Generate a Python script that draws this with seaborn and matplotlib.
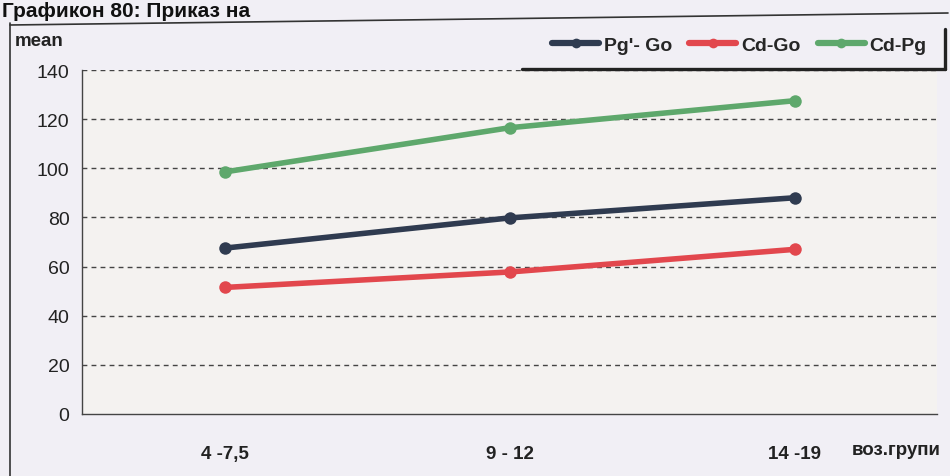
import numpy as np
import pandas as pd
import matplotlib.pyplot as plt
import seaborn as sns
from matplotlib import font_manager
from matplotlib.lines import Line2D

# -----------------------------
# Data
# -----------------------------
age_groups = ["4 -7,5", "9 - 12", "14 -19"]
pg_go = [67.5, 79.8, 88.0]
cd_go = [51.5, 57.8, 67.0]
cd_pg = [98.5, 116.5, 127.5]

series_names = ["Pg'- Go", "Cd-Go", "Cd-Pg"]
series_colors = ["#2f3b50", "#e2474d", "#5ea86c"]
y_ticks = [0, 20, 40, 60, 80, 100, 120, 140]

df = pd.DataFrame({
    "group": age_groups * 3,
    "pos": list(range(len(age_groups))) * 3,
    "mean": pg_go + cd_go + cd_pg,
    "series": [s for s in series_names for _ in age_groups],
})

# condensed bold font like the scanned original, if available
names = {f.name for f in font_manager.fontManager.ttflist}
narrow = "Liberation Sans Narrow" if "Liberation Sans Narrow" in names else "Liberation Sans"

sns.set_style("white")
plt.rcParams["font.family"] = ["Liberation Sans", "DejaVu Sans"]

bg = "#f1eff5"
fig = plt.figure(figsize=(9.5, 4.77), dpi=100, facecolor=bg)
ax = fig.add_axes([82 / 950, 1 - 415 / 477, 855 / 950, 344 / 477])
ax.set_facecolor("#f4f2f0")

sns.lineplot(
    data=df, x="pos", y="mean", hue="series", hue_order=series_names,
    palette=series_colors, marker="o", markersize=9, markeredgewidth=0,
    linewidth=4, legend=False, ax=ax,
)

ax.set_xlim(-0.5, len(age_groups) - 0.5)
ax.set_ylim(0, 140)
ax.set_yticks(y_ticks)
ax.set_yticklabels([str(t) for t in y_ticks], fontsize=14, color="#222222")
ax.set_xticks(np.arange(len(age_groups)))
ax.set_xticklabels(age_groups, fontsize=13.5, fontweight="bold", family=narrow, color="#222222")
ax.set_xticks(np.arange(len(age_groups)) + 0.5, minor=True)
ax.tick_params(axis="x", which="major", length=0, pad=22)
ax.tick_params(axis="x", which="minor", length=4, direction="out", color="#444444")
ax.tick_params(axis="y", length=5, direction="out", color="#444444", pad=4)
ax.set_xlabel("")
ax.set_ylabel("")

for t in y_ticks[1:]:
    ax.axhline(t, color="#444444", linestyle=(0, (3.5, 3)), linewidth=1.0, zorder=0)

for side in ["top", "right"]:
    ax.spines[side].set_visible(False)
for side in ["left", "bottom"]:
    ax.spines[side].set_color("#444444")
    ax.spines[side].set_linewidth(1.0)

# axis captions
fig.text(15 / 950, 1 - 42 / 477, "mean", fontsize=13.5, fontweight="bold", va="center", color="#222222")
fig.text(852 / 950, 1 - 451 / 477, "воз.групи", fontsize=13.5, fontweight="bold",
         family=narrow, va="center", color="#222222")

# legend
handles = [Line2D([0], [0], color=c, linewidth=4.5, marker="o", markersize=7, markeredgewidth=0)
           for c in series_colors]
leg = fig.legend(handles, series_names, loc="center right", bbox_to_anchor=(944 / 950, 1 - 46 / 477),
                 ncol=3, frameon=False, handlelength=2.4, handletextpad=0.25, columnspacing=0.9,
                 prop={"weight": "bold", "size": 14})

# scanned page frame and caption at the top edge
fig.add_artist(Line2D([10 / 950, 10 / 950], [0, 1 - 24 / 477], color="#333333", linewidth=1.2))
fig.add_artist(Line2D([10 / 950, 948 / 950], [1 - 26 / 477, 1 - 14 / 477], color="#333333", linewidth=1.2))
fig.add_artist(Line2D([522 / 950, 945 / 950], [1 - 70 / 477, 1 - 70 / 477], color="#222222", linewidth=2.4))
fig.add_artist(Line2D([945 / 950, 945 / 950], [1 - 30 / 477, 1 - 70 / 477], color="#222222", linewidth=2.4))
fig.text(2 / 950, 1 - 2 / 477, "Графикон 80: Приказ на", fontsize=15, fontweight="bold",
         va="top", color="#111111")

fig.savefig("out.png", dpi=100, facecolor=bg)
